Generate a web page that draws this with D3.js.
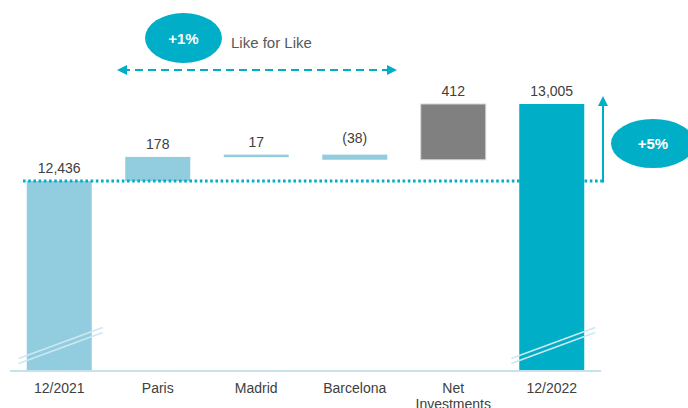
<!DOCTYPE html>
<html>
<head>
<meta charset="utf-8">
<script src="https://cdn.jsdelivr.net/npm/d3@7"></script>
<style>
  body { margin: 0; background: #fff; }
  svg text { font-family: "Liberation Sans", Arial, sans-serif; }
</style>
</head>
<body>
<div class="chart"></div>
<script>
// data
const categories = ['12/2021', 'Paris', 'Madrid', 'Barcelona', 'Net Investments', '12/2022'];
const startValue = 12436;
const deltas = [178, 17, -38, 412];
const endValue = 13005;
const lflPct = '+1%';
const totalPct = '+5%';

const W = 688, H = 408;
const teal = '#00aec7';
const lightBlue = '#92cddf';

const svg = d3.select('.chart')
    .append('svg')
    .attr('width', W)
    .attr('height', H);

const x = d3.scaleBand()
    .domain(categories)
    .range([10, 601])
    .paddingInner(0.34)
    .paddingOuter(0.17);

// broken axis: bars start from a cut value
const y = d3.scaleLinear()
    .domain([11032, endValue])
    .range([371, 104]);

// build waterfall steps
let running = startValue;
const steps = [{ cat: categories[0], y0: y.domain()[0], y1: startValue, value: startValue, kind: 'total' }];
deltas.forEach((d, i) => {
    steps.push({ cat: categories[i + 1], y0: running, y1: running + d, value: d, kind: i === 3 ? 'invest' : 'lfl' });
    running += d;
});
steps.push({ cat: categories[5], y0: y.domain()[0], y1: endValue, value: endValue, kind: 'end' });

function fill(s) {
    if (s.kind === 'end') return teal;
    if (s.kind === 'invest') return '#808080';
    return lightBlue;
}

svg.selectAll('rect.bar')
    .data(steps)
    .enter()
    .append('rect')
    .attr('class', 'bar')
    .attr('x', d => x(d.cat))
    .attr('width', x.bandwidth())
    .attr('y', d => Math.min(y(d.y0), y(d.y1)))
    .attr('height', d => Math.max(2.5, Math.abs(y(d.y0) - y(d.y1))))
    .attr('fill', fill)
    .attr('stroke', d => d.kind === 'invest' ? '#d6d6d6' : 'none')
    .attr('stroke-width', 1);

// value labels
const fmt = d3.format(',');
svg.selectAll('text.val')
    .data(steps)
    .enter()
    .append('text')
    .attr('class', 'val')
    .attr('x', d => x(d.cat) + x.bandwidth() / 2)
    .attr('y', d => Math.min(y(d.y0), y(d.y1)) - (d.value < 0 ? 12 : 8))
    .attr('text-anchor', 'middle')
    .style('font-size', '14px')
    .style('fill', '#404040')
    .text(d => d.value < 0 ? '(' + fmt(-d.value) + ')' : fmt(d.value));

// axis baseline
svg.append('line')
    .attr('x1', x.range()[0]).attr('x2', x.range()[1])
    .attr('y1', y.range()[0]).attr('y2', y.range()[0])
    .attr('stroke', '#c6e2eb')
    .attr('stroke-width', 2);

// category labels
svg.selectAll('text.cat')
    .data(categories)
    .enter()
    .append('text')
    .attr('class', 'cat')
    .attr('x', d => x(d) + x.bandwidth() / 2)
    .attr('y', 393)
    .attr('text-anchor', 'middle')
    .style('font-size', '14px')
    .style('fill', '#404040')
    .each(function(d) {
        const words = d === 'Net Investments' ? ['Net', 'Investments'] : [d];
        words.forEach((w, i) => {
            d3.select(this).append('tspan')
                .attr('x', x(d) + x.bandwidth() / 2)
                .attr('dy', i === 0 ? 0 : 16)
                .text(w);
        });
    });

// break marks on total bars
[categories[0], categories[5]].forEach(c => {
    const bx = x(c);
    [-2.5, 2.5].forEach(off => {
        svg.append('line')
            .attr('x1', bx - 8).attr('y1', 361 + off)
            .attr('x2', bx + x.bandwidth() + 11).attr('y2', 330 + off)
            .attr('stroke', '#cde8f1')
            .attr('stroke-width', 1.6);
    });
});

// arrow markers
const defs = svg.append('defs');
defs.append('marker')
    .attr('id', 'arr')
    .attr('viewBox', '0 0 10 10')
    .attr('refX', 5).attr('refY', 5)
    .attr('markerWidth', 10).attr('markerHeight', 10)
    .attr('markerUnits', 'userSpaceOnUse')
    .attr('orient', 'auto-start-reverse')
    .append('path')
    .attr('d', 'M0,0 L10,5 L0,10 Z')
    .attr('fill', teal);

// dotted reference line at start level
const refY = y(startValue);
svg.append('line')
    .attr('x1', 23).attr('x2', 603)
    .attr('y1', refY).attr('y2', refY)
    .attr('stroke', teal)
    .attr('stroke-width', 3)
    .attr('stroke-dasharray', '2.6,2.6');

// vertical arrow to end value
svg.append('line')
    .attr('x1', 603).attr('x2', 603)
    .attr('y1', refY + 1.5).attr('y2', 101)
    .attr('stroke', teal)
    .attr('stroke-width', 2)
    .attr('marker-end', 'url(#arr)');

// like for like dashed arrow
svg.append('line')
    .attr('x1', 122).attr('x2', 392)
    .attr('y1', 70).attr('y2', 70)
    .attr('stroke', teal)
    .attr('stroke-width', 2)
    .attr('stroke-dasharray', '8,5')
    .attr('marker-start', 'url(#arr)')
    .attr('marker-end', 'url(#arr)');

// bubbles
svg.append('ellipse')
    .attr('cx', 183.5).attr('cy', 38)
    .attr('rx', 38.5).attr('ry', 25)
    .attr('fill', teal);
svg.append('text')
    .attr('x', 183.5).attr('y', 43.5)
    .attr('text-anchor', 'middle')
    .style('font-size', '15px')
    .style('font-weight', 'bold')
    .style('fill', '#fff')
    .text(lflPct);
svg.append('text')
    .attr('x', 231).attr('y', 48)
    .style('font-size', '15px')
    .style('fill', '#595959')
    .text('Like for Like');

svg.append('ellipse')
    .attr('cx', 653).attr('cy', 143.5)
    .attr('rx', 42).attr('ry', 24.5)
    .attr('fill', teal);
svg.append('text')
    .attr('x', 653).attr('y', 149)
    .attr('text-anchor', 'middle')
    .style('font-size', '15px')
    .style('font-weight', 'bold')
    .style('fill', '#fff')
    .text(totalPct);
</script>
</body>
</html>
